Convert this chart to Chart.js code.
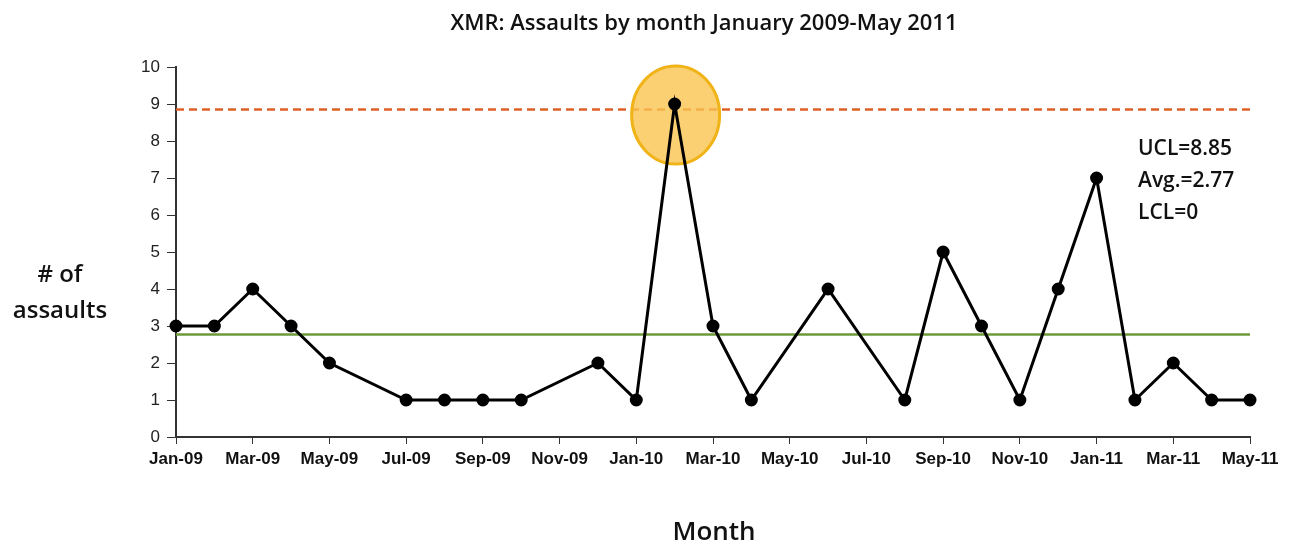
<!DOCTYPE html>
<html>
<head>
<meta charset="utf-8">
<script src="https://cdn.jsdelivr.net/npm/chart.js@4"></script>
<style>
  html, body { margin: 0; padding: 0; background: #fff; }
  #wrap { position: relative; width: 1291px; height: 544px; overflow: hidden; }
  #chart { position: absolute; left: 0; top: 0; }
  .lbl { position: absolute; font-family: "Open Sans", "Noto Sans", sans-serif; color: #111; white-space: nowrap; }
  #title { left: 0; width: 1408px; top: 6px; line-height: 30px; text-align: center; font-size: 22px; font-weight: 600; }
  #ylab { left: 0; width: 120px; top: 255px; text-align: center; font-size: 24px; line-height: 36px; font-weight: 600; }
  #xlab { left: 0; width: 1428px; top: 512px; line-height: 36px; text-align: center; font-size: 26px; font-weight: 600; }
  #limits { left: 1138px; top: 131px; font-size: 21px; line-height: 32px; font-weight: 600; }
</style>
</head>
<body>
<div id="wrap">
  <canvas id="chart" width="1291" height="544"></canvas>
  <div class="lbl" id="title">XMR: Assaults by month January 2009-May 2011</div>
  <div class="lbl" id="ylab"># of<br>assaults</div>
  <div class="lbl" id="xlab">Month</div>
  <div class="lbl" id="limits">UCL=8.85<br>Avg.=2.77<br>LCL=0</div>
</div>
<script>
const months = [
  "Jan-09","Feb-09","Mar-09","Apr-09","May-09","Jun-09","Jul-09","Aug-09","Sep-09","Oct-09","Nov-09","Dec-09",
  "Jan-10","Feb-10","Mar-10","Apr-10","May-10","Jun-10","Jul-10","Aug-10","Sep-10","Oct-10","Nov-10","Dec-10",
  "Jan-11","Feb-11","Mar-11","Apr-11","May-11"
];
// months with no marker are left null, the line just runs through them
const assaults = [
  3, 3, 4, 3, 2, null, 1, 1, 1, 1, null, 2,
  1, 9, 3, 1, null, 4, null, 1, 5, 3, 1, 4,
  7, 1, 2, 1, 1
];
const ucl = 8.85;
const avg = 2.77;
const lcl = 0;
const flagged = "Feb-10";

const limitLines = {
  id: "limitLines",
  beforeDatasetsDraw(chart) {
    const { ctx, chartArea, scales } = chart;
    ctx.save();
    // UCL dashed
    let y = scales.y.getPixelForValue(ucl);
    ctx.strokeStyle = "#de6128";
    ctx.lineWidth = 2.5;
    ctx.setLineDash([8, 5]);
    ctx.beginPath();
    ctx.moveTo(chartArea.left, y);
    ctx.lineTo(chartArea.right, y);
    ctx.stroke();
    // average line
    ctx.setLineDash([]);
    y = scales.y.getPixelForValue(avg);
    ctx.strokeStyle = "#6c9a3a";
    ctx.lineWidth = 2.5;
    ctx.beginPath();
    ctx.moveTo(chartArea.left, y);
    ctx.lineTo(chartArea.right, y);
    ctx.stroke();
    // highlight around the out-of-control point
    const i = months.indexOf(flagged);
    const px = scales.x.getPixelForValue(i);
    const py = scales.y.getPixelForValue(assaults[i]);
    ctx.beginPath();
    ctx.ellipse(px + 1, py + 11, 44, 49, 0, 0, Math.PI * 2);
    ctx.fillStyle = "rgba(250, 196, 80, 0.8)";
    ctx.fill();
    ctx.strokeStyle = "#f0b418";
    ctx.lineWidth = 3;
    ctx.stroke();
    ctx.restore();
  }
};

new Chart(document.getElementById("chart"), {
  type: "line",
  data: {
    labels: months,
    datasets: [{
      label: "Assaults",
      data: assaults,
      borderColor: "#000",
      backgroundColor: "#000",
      borderWidth: 3,
      pointRadius: 5,
      pointBackgroundColor: "#000",
      spanGaps: true,
      tension: 0
    }]
  },
  options: {
    responsive: false,
    animation: false,
    layout: { padding: { top: 67, right: 41, left: 0, bottom: 0 } },
    plugins: {
      legend: { display: false },
      tooltip: { enabled: false }
    },
    scales: {
      x: {
        type: "category",
        offset: false,
        afterFit(scale) { scale.height = 107; },
        grid: { drawOnChartArea: false, drawTicks: true, tickLength: 7, color: "#333" },
        border: { color: "#333", width: 2 },
        ticks: {
          autoSkip: false,
          maxRotation: 0,
          padding: 5,
          color: "#111",
          font: { family: "Liberation Sans", size: 17, weight: "bold" },
          callback(val, i) { return i % 2 === 0 ? this.getLabelForValue(val) : null; }
        }
      },
      y: {
        min: lcl,
        max: 10,
        afterFit(scale) { scale.width = 176; },
        grid: { drawOnChartArea: false, drawTicks: true, tickLength: 9, color: "#333" },
        border: { color: "#333", width: 2 },
        ticks: {
          stepSize: 1,
          padding: 7,
          color: "#222",
          font: { family: "Liberation Sans", size: 17 }
        }
      }
    }
  },
  plugins: [limitLines]
});
</script>
</body>
</html>
